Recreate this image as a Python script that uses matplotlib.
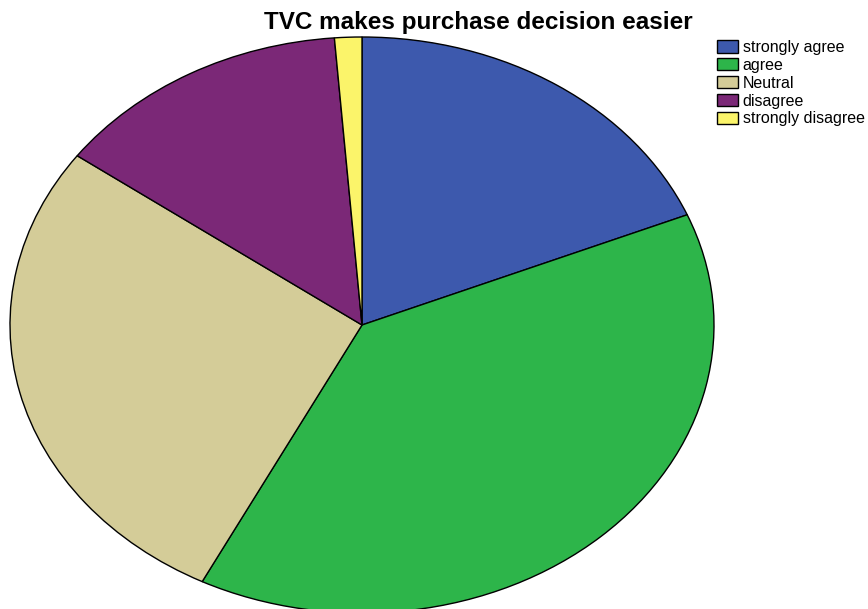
import matplotlib.pyplot as plt

plt.rcParams['font.family'] = ['Liberation Sans', 'DejaVu Sans']

labels = ['strongly agree', 'agree', 'Neutral', 'disagree', 'strongly disagree']
counts = [15, 31, 22, 11, 1]
colors = ['#3d59ad', '#2db54a', '#d4cc98', '#7b2877', '#fbf46a']

fig = plt.figure(figsize=(8.68, 6.09), dpi=100)
# axes sized so the pie comes out as a wide ellipse
ax = fig.add_axes([10 / 868, -4 / 609, 704 / 868, 576 / 609])
wedges, _ = ax.pie(counts, colors=colors, startangle=90, counterclock=False,
                   wedgeprops=dict(edgecolor='black', linewidth=1.0))
ax.set_aspect('auto')
ax.set_xlim(-1, 1)
ax.set_ylim(-1, 1)
ax.axis('off')

fig.text(478 / 868, 1 - 22 / 609, 'TVC makes purchase decision easier',
         ha='center', va='center', fontsize=17.5, fontweight='bold')

leg = fig.legend(wedges, labels, loc='upper left',
                 bbox_to_anchor=(717 / 868, 1 - 40 / 609), frameon=False,
                 fontsize=11.5, handlelength=1.3, handleheight=0.8,
                 handletextpad=0.3, labelspacing=0.18, borderpad=0,
                 borderaxespad=0)
for h in leg.legend_handles:
    h.set_linewidth(1.0)

fig.savefig('out.png', dpi=100)
